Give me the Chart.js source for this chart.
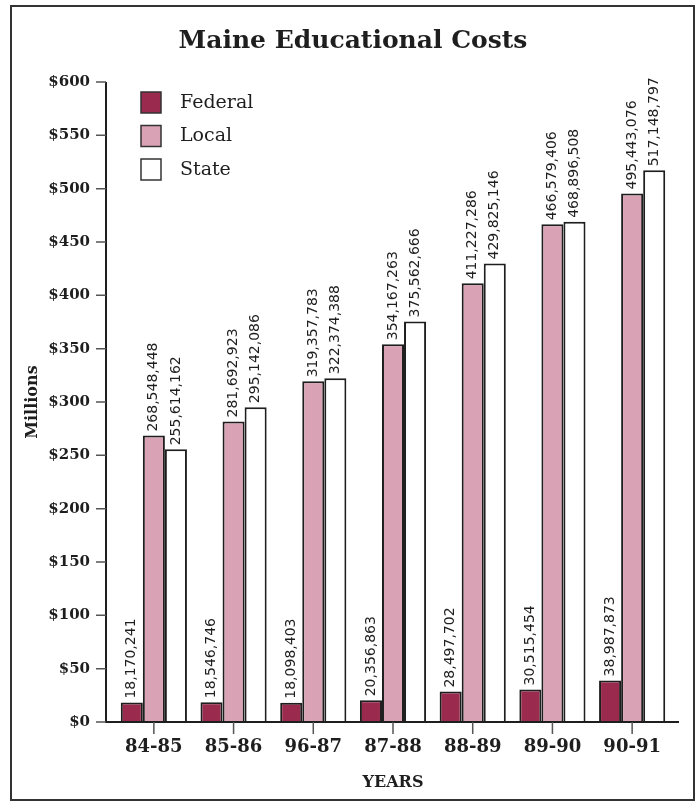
<!DOCTYPE html>
<html>
<head>
<meta charset="utf-8">
<title>Maine Educational Costs</title>
<script src="https://cdn.jsdelivr.net/npm/chart.js@4"></script>
<style>
  html, body { margin: 0; padding: 0; background: #fff; }
  #wrap { width: 699px; height: 809px; }
</style>
</head>
<body>
<div id="wrap"><canvas id="costChart" width="699" height="809"></canvas></div>
<script>
// school years (the third one is printed as "96-87" on the original sheet)
const years = ['84-85', '85-86', '96-87', '87-88', '88-89', '89-90', '90-91'];

// dollars per year
const federal = [18170241, 18546746, 18098403, 20356863, 28497702, 30515454, 38987873];
const local = [268548448, 281692923, 319357783, 354167263, 411227286, 466579406, 495443076];
const state = [255614162, 295142086, 322374388, 375562666, 429825146, 468896508, 517148797];

const seriesNames = ['Federal', 'Local', 'State'];
const seriesColors = ['#9a2b4f', '#daa2b5', '#ffffff'];

const INK = '#1e1e1e';
const SERIF = '"DejaVu Serif", serif';

// white page with a thin frame
const framePlugin = {
  id: 'frame',
  beforeDraw(chart) {
    const { ctx, width, height } = chart;
    ctx.save();
    ctx.fillStyle = '#fff';
    ctx.fillRect(0, 0, width, height);
    ctx.strokeStyle = '#333';
    ctx.lineWidth = 2;
    ctx.strokeRect(11, 6, 683, 794);
    ctx.restore();
  }
};

// axis lines sit a little outside the bar area, with short tick marks
const axesPlugin = {
  id: 'axesLines',
  afterDraw(chart) {
    const { ctx, chartArea, scales } = chart;
    const x0 = chartArea.left - 8;
    const yBottom = scales.y.getPixelForValue(0);
    const yTop = scales.y.getPixelForValue(scales.y.max);
    ctx.save();
    ctx.strokeStyle = INK;
    ctx.lineWidth = 2;
    ctx.beginPath();
    ctx.moveTo(x0, yTop);
    ctx.lineTo(x0, yBottom);
    ctx.lineTo(chartArea.right + 7, yBottom);
    ctx.stroke();

    ctx.lineWidth = 1.5;
    ctx.strokeStyle = '#555';
    ctx.beginPath();
    scales.y.ticks.forEach(t => {
      const py = scales.y.getPixelForValue(t.value);
      ctx.moveTo(x0 - 10, py);
      ctx.lineTo(x0, py);
    });
    years.forEach((_, i) => {
      const px = scales.x.getPixelForValue(i);
      ctx.moveTo(px, yBottom);
      ctx.lineTo(px, yBottom + 12);
    });
    ctx.stroke();
    ctx.restore();
  }
};

// vertical value labels just above each bar
const valueLabels = {
  id: 'valueLabels',
  afterDatasetsDraw(chart) {
    const { ctx } = chart;
    ctx.save();
    ctx.fillStyle = INK;
    ctx.font = '14px "DejaVu Sans", sans-serif';
    ctx.textAlign = 'left';
    ctx.textBaseline = 'middle';
    chart.data.datasets.forEach((ds, di) => {
      const meta = chart.getDatasetMeta(di);
      meta.data.forEach((bar, i) => {
        ctx.save();
        ctx.translate(bar.x, bar.y - 4);
        ctx.rotate(-Math.PI / 2);
        ctx.fillText(ds.data[i].toLocaleString('en-US'), 0, 0);
        ctx.restore();
      });
    });
    ctx.restore();
  }
};

// legend boxes stacked in the upper left of the plot
const boxLegend = {
  id: 'boxLegend',
  afterDraw(chart) {
    const { ctx } = chart;
    ctx.save();
    ctx.font = '19px ' + SERIF;
    ctx.textBaseline = 'middle';
    ctx.textAlign = 'left';
    chart.data.datasets.forEach((ds, i) => {
      const top = 92 + i * 33.5;
      ctx.fillStyle = ds.backgroundColor;
      ctx.fillRect(141, top, 20, 21);
      ctx.strokeStyle = '#333';
      ctx.lineWidth = 1.5;
      ctx.strokeRect(141, top, 20, 21);
      ctx.fillStyle = INK;
      ctx.fillText(ds.label, 180, top + 11);
    });
    ctx.restore();
  }
};

const datasets = [federal, local, state].map((values, i) => ({
  label: seriesNames[i],
  data: values,
  backgroundColor: seriesColors[i],
  borderColor: INK,
  borderWidth: 2,
  borderSkipped: 'bottom',
  categoryPercentage: 0.83,
  barPercentage: 1.0
}));

new Chart(document.getElementById('costChart'), {
  type: 'bar',
  data: { labels: years, datasets },
  options: {
    responsive: false,
    animation: false,
    devicePixelRatio: 1,
    layout: { padding: { top: 82, right: 27, bottom: 0, left: 0 } },
    plugins: {
      legend: { display: false },
      tooltip: { enabled: false },
      title: { display: false }
    },
    scales: {
      x: {
        grid: { display: false, drawTicks: false },
        border: { display: false },
        ticks: {
          color: INK,
          padding: 15,
          font: { family: SERIF, weight: 'bold', size: 18 }
        },
        title: {
          display: true,
          text: 'YEARS',
          color: INK,
          font: { family: SERIF, weight: 'bold', size: 16 },
          padding: { top: 0, bottom: 17 }
        },
        afterFit(scale) { scale.height = 87; }
      },
      y: {
        min: 0,
        max: 600000000,
        grid: { display: false, drawTicks: false },
        border: { display: false },
        ticks: {
          stepSize: 50000000,
          color: INK,
          padding: 24,
          font: { family: SERIF, weight: 'bold', size: 15 },
          callback: v => '$' + (v / 1000000)
        },
        title: {
          display: true,
          text: 'Millions',
          color: INK,
          font: { family: SERIF, weight: 'bold', size: 16 },
          padding: { top: 23, bottom: 0 }
        },
        afterFit(scale) { scale.width = 114; }
      }
    }
  },
  plugins: [framePlugin, axesPlugin, valueLabels, boxLegend, {
    id: 'heading',
    afterDraw(chart) {
      const { ctx } = chart;
      ctx.save();
      ctx.fillStyle = INK;
      ctx.font = 'bold 25px ' + SERIF;
      ctx.textAlign = 'center';
      ctx.textBaseline = 'alphabetic';
      ctx.fillText('Maine Educational Costs', 353, 48);
      ctx.restore();
    }
  }]
});
</script>
</body>
</html>
